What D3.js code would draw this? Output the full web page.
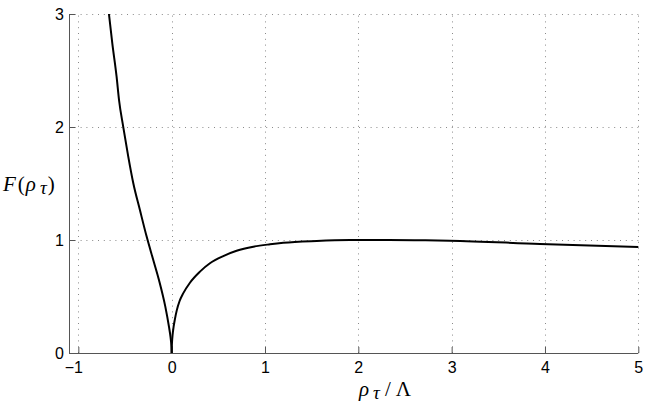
<!DOCTYPE html>
<html>
<head>
<meta charset="utf-8">
<script src="https://cdn.jsdelivr.net/npm/d3@7"></script>
<style>
  html, body { margin: 0; padding: 0; background: #fff; }
  svg { display: block; }
</style>
</head>
<body>
<svg id="chart" width="649" height="407"></svg>
<script>
// ---- data ----
const leftX  = [-0.672, -0.636, -0.59, -0.564, -0.518, -0.465, -0.411, -0.34, -0.268, -0.197, -0.136, -0.068, -0.029, -0.012, -0.004, -0.001, 0];
const leftF  = [3.0, 2.74, 2.445, 2.239, 1.997, 1.738, 1.502, 1.265, 1.03, 0.823, 0.646, 0.41, 0.233, 0.14, 0.075, 0.035, 0];
const rightX = [0, 0.001, 0.004, 0.01, 0.021, 0.035, 0.054, 0.085, 0.125, 0.196, 0.303, 0.41, 0.553, 0.696, 0.875, 1.054, 1.196, 1.554, 1.91, 2.2, 2.6, 2.98, 3.947, 5.0];
const rightF = [0, 0.05, 0.1, 0.16, 0.233, 0.3, 0.375, 0.46, 0.53, 0.622, 0.72, 0.794, 0.858, 0.905, 0.941, 0.962, 0.975, 0.991, 0.999, 1.0, 0.998, 0.994, 0.965, 0.938];
const xTicks = [-1, 0, 1, 2, 3, 4, 5];
const yTicks = [0, 1, 2, 3];
const xTickLabels = ["\u22121", "0", "1", "2", "3", "4", "5"];
const yTickLabels = ["0", "1", "2", "3"];

(function () {
const svg = d3.select("#chart");
const pL = 69, pR = 638.3, pT = 14, pB = 353;

const x = d3.scaleLinear().domain([-1.1, 5]).range([pL, pR]);
const y = d3.scaleLinear().domain([0, 3]).range([pB, pT]);

// grid
const grid = svg.append("g").attr("stroke", "#8a8a8a").attr("stroke-width", 1)
  .attr("stroke-dasharray", "1,4.8").attr("fill", "none");
xTicks.forEach(t => {
  grid.append("line").attr("x1", Math.round(x(t)) + 0.5).attr("x2", Math.round(x(t)) + 0.5)
    .attr("y1", pB).attr("y2", pT);
});
yTicks.forEach(t => {
  if (t === 0) return;
  grid.append("line").attr("y1", Math.round(y(t)) + 0.5).attr("y2", Math.round(y(t)) + 0.5)
    .attr("x1", pL).attr("x2", pR);
});

// axes
const xAxis = d3.axisBottom(x).tickValues(xTicks).tickSizeInner(-6).tickSizeOuter(0)
  .tickPadding(9).tickFormat((d, i) => xTickLabels[i]);
const yAxis = d3.axisLeft(y).tickValues(yTicks).tickSizeInner(-6).tickSizeOuter(0)
  .tickPadding(5).tickFormat((d, i) => yTickLabels[i]);

const gx = svg.append("g").attr("transform", `translate(0,${pB})`).call(xAxis);
const gy = svg.append("g").attr("transform", `translate(${pL},0)`).call(yAxis);
[gx, gy].forEach(g => {
  g.select(".domain").attr("stroke", "#555").attr("stroke-width", 1);
  g.selectAll(".tick line").attr("stroke", "#555");
  g.selectAll("text").attr("fill", "#000")
    .style("font-family", "'Liberation Sans', Arial, sans-serif").style("font-size", "16px");
});
gx.select(".domain").attr("d", `M${pL},0.5H${pR}`);
gy.select(".domain").attr("d", `M0.5,${pT}V${pB}`);
gx.selectAll(".tick text").attr("dy", "0.71em");
gx.selectAll(".tick").filter(d => d < 0).select("text").attr("dx", -5);

// curve
const line = d3.line().x(d => x(d[0])).y(d => y(d[1])).curve(d3.curveMonotoneX);
const leftPts = leftX.map((v, i) => [v, leftF[i]]);
const rightPts = rightX.map((v, i) => [v, rightF[i]]);
[leftPts, rightPts].forEach(pts => {
  svg.append("path").datum(pts).attr("d", line)
    .attr("fill", "none").attr("stroke", "#000").attr("stroke-width", 2)
    .attr("stroke-linejoin", "round");
});

// axis labels
const yl = svg.append("text").attr("x", 3).attr("y", 191)
  .style("font-family", "'Liberation Serif', serif").style("font-size", "21px").attr("fill", "#000");
yl.append("tspan").text("F").style("font-style", "italic");
yl.append("tspan").text("(").attr("dx", 2);
yl.append("tspan").text("ρ").style("font-style", "italic").attr("dx", 1);
yl.append("tspan").text("τ").style("font-style", "italic").attr("dx", 4).attr("dy", 3).style("font-size", "19px");
yl.append("tspan").text(")").attr("dx", 1).attr("dy", -3);

const xl = svg.append("text").attr("x", 385).attr("y", 396).attr("text-anchor", "middle")
  .style("font-family", "'Liberation Serif', serif").style("font-size", "21px").attr("fill", "#000");
xl.append("tspan").text("ρ").style("font-style", "italic");
xl.append("tspan").text("τ").style("font-style", "italic").attr("dx", 4).attr("dy", 3).style("font-size", "19px");
xl.append("tspan").text("/").attr("dx", 5).attr("dy", -3);
xl.append("tspan").text("Λ").attr("dx", 5);
})();
</script>
</body>
</html>
